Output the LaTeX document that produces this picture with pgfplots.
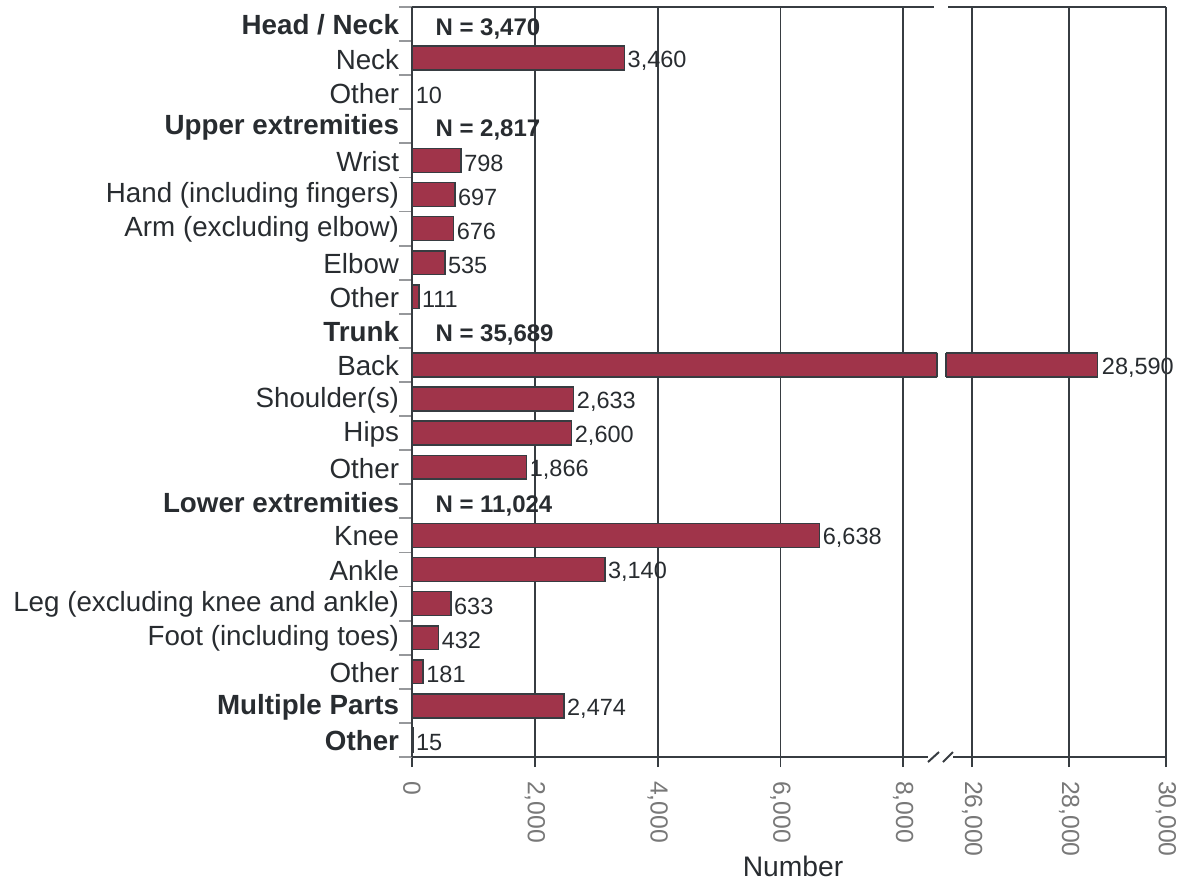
\documentclass[border=0pt]{standalone}
\usepackage{fontspec}
\setmainfont{Liberation Sans}
\usepackage{pgfplots}
\usepackage{pgfplotstable}
\pgfplotsset{compat=1.18}
\definecolor{barred}{RGB}{160,52,74}
\definecolor{txt}{RGB}{40,44,48}
\definecolor{axc}{RGB}{55,60,65}
\definecolor{tickgray}{RGB}{120,120,120}
\definecolor{ytickc}{RGB}{150,152,155}

\pgfplotstableread{
y v
20 3460
19 10
17 798
16 697
15 676
14 535
13 111
10 2633
9 2600
8 1866
6 6638
5 3140
4 633
3 432
2 181
1 2474
0 15
}\datamain

\pgfplotstableread{
y v
11 28590
}\databack

\begin{document}
\begin{tikzpicture}
\begin{scope}[x=0.4pt,y=-0.4pt]
\path[use as bounding box] (0,0) rectangle (1181,888);
\end{scope}

\pgfplotsset{
 base/.style={
  scale only axis, height=300pt,
  ymin=-0.5, ymax=21.5,
  axis line style={draw=none},
  clip mode=individual,
  xbar, bar width=0.7, bar shift=0pt,
  scaled x ticks=false,
  /pgf/number format/.cd, 1000 sep={,}, assume math mode=true, /pgfplots/.cd,
  xmajorgrids, grid style={axc, line width=0.7pt},
  xtick pos=bottom, tick align=outside, major tick length=4pt,
  xtick style={axc, line width=0.7pt},
  xticklabel style={rotate=-90, anchor=west, font=\fontsize{9.9}{10}\selectfont, text=tickgray, inner ysep=0pt, inner xsep=5.4pt},
  every node near coord/.append style={font=\fontsize{9.4}{10}\selectfont, text=txt, inner sep=1pt, yshift=-1.1pt},
 }
}

% left panel
\begin{axis}[base,
  at={(164.8pt,-302.8pt)}, anchor=south west, width=210pt,
  xmin=0, xmax=8550,
  xtick={0,2000,4000,6000,8000},
  ytick={0,...,21},
  yticklabels={\textbf{Other}, \textbf{Multiple Parts}, Other, Foot (including toes), Leg (excluding knee and ankle), Ankle, Knee, \textbf{Lower extremities}, Other, Hips, Shoulder(s), Back, \textbf{Trunk}, Other, Elbow, Arm (excluding elbow), Hand (including fingers), Wrist, \textbf{Upper extremities}, Other, Neck, \textbf{Head / Neck}},
  ytick pos=left,
  ytick style={draw=none},
  yticklabel style={font=\fontsize{11.1}{12}\selectfont, text=txt, inner sep=0pt, xshift=-1pt, yshift=-0.4pt},
]
\addplot[fill=barred, draw=axc, line width=0.6pt, point meta=x, nodes near coords] table[x=v, y=y] {\datamain};
\addplot[fill=barred, draw=axc, line width=0.6pt] table[x=v, y=y] {\databack};
\draw[axc, line width=0.6pt] (axis cs:8550,10.65) -- (axis cs:8550,11.35);
\begin{scope}[every node/.style={anchor=west, inner sep=0pt, font=\bfseries\fontsize{9.6}{10}\selectfont, text=txt}]
\node at (axis cs:375,20.85) {N = 3,470};
\node at (axis cs:375,17.88) {N = 2,817};
\node at (axis cs:375,11.88) {N = 35,689};
\node at (axis cs:375,6.85) {N = 11,024};
\end{scope}
\end{axis}

% right panel
\begin{axis}[base,
  at={(378.4pt,-302.8pt)}, anchor=south west, width=88pt,
  xmin=25460, xmax=30000,
  xtick={26000,28000,30000},
  ytick=\empty,
]
\addplot[fill=barred, draw=axc, line width=0.6pt, point meta=x, nodes near coords,
  every node near coord/.append style={fill=white, xshift=0.4pt}] table[x=v, y=y] {\databack};
\draw[axc, line width=0.6pt] (axis cs:25460,10.65) -- (axis cs:25460,11.35);
\end{axis}

% frame
\begin{scope}[x=0.4pt,y=-0.4pt]
\begin{scope}[ytickc, line width=0.7pt]
\foreach \k in {0,...,22} {
  \draw (399,{7+34.0909*\k}) -- (412,{7+34.0909*\k});
}
\end{scope}
\begin{scope}[axc, line width=0.8pt]
\draw (412,7) -- (412,757);
\draw (412,7) -- (934,7);
\draw (948,7) -- (1166,7);
\draw (1166,7) -- (1166,382);
\draw (1166,395) -- (1166,757);
\draw (412,757) -- (928,757);
\draw (953,757) -- (1166,757);
\draw (928,762) -- (939,752);
\draw (943,762) -- (953,752);
\end{scope}
\node[font=\fontsize{11.3}{12}\selectfont, text=txt] at (793,866) {Number};
\end{scope}
\end{tikzpicture}
\end{document}
